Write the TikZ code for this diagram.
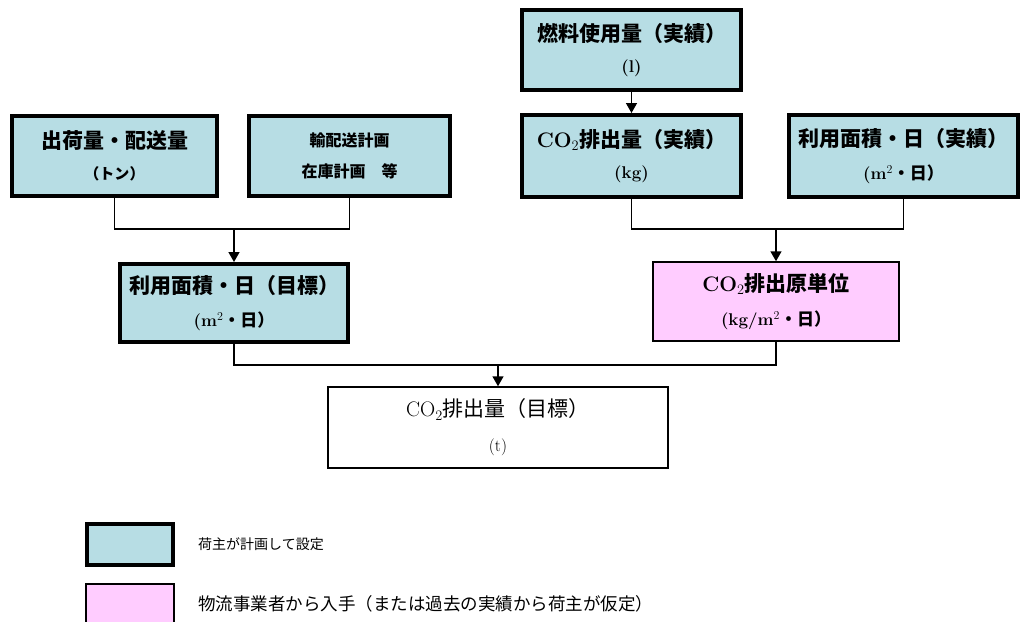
\documentclass[tikz,border=0pt]{standalone}
\usepackage{fontspec}
\newfontfamily\jp{Noto Sans CJK JP}
\usetikzlibrary{arrows.meta}
\definecolor{planblue}{RGB}{183,221,228}
\definecolor{lspink}{RGB}{255,204,255}
\newcommand{\ttl}{\jp\bfseries\fontsize{21}{24}\selectfont}
\newcommand{\unt}{\bfseries\fontsize{17}{20}\selectfont}
\begin{document}
\begin{tikzpicture}[x=1pt,y=-1pt,
  plan/.style={draw,line width=4pt,fill=planblue,inner sep=0pt,align=center},
  given/.style={draw,line width=1.5pt,fill=lspink,inner sep=0pt,align=center},
  result/.style={draw,line width=1.5pt,fill=white,inner sep=0pt,align=center},
  link/.style={line width=1.5pt},
  flow/.style={line width=1.5pt,-{Triangle[width=11pt,length=10pt]}},
  note/.style={anchor=west,inner sep=0pt}]
\clip (0,0) rectangle (1022,621);
\fill[white] (0,0) rectangle (1022,621);
% top row
\node[plan,minimum width=205pt,minimum height=80pt] (ship) at (114.5,156)
  {{\ttl 出荷量・配送量}\\[15pt]{\jp\bfseries\fontsize{15}{18}\selectfont （トン）}};
\node[plan,minimum width=201pt,minimum height=80pt] (sched) at (349.5,156)
  {{\jp\bfseries\fontsize{16}{19}\selectfont 輸配送計画}\\[14pt]{\jp\bfseries\fontsize{16}{19}\selectfont 在庫計画\quad 等}};
\node[plan,minimum width=219pt,minimum height=80pt] (fuel) at (631.5,50)
  {{\ttl 燃料使用量（実績）}\\[15pt]{\unt (l)}};
\node[plan,minimum width=219pt,minimum height=82pt] (co2act) at (631.5,156)
  {{\ttl {\rmfamily\bfseries CO$_2$}排出量（実績）}\\[15pt]{\unt (kg)}};
\node[plan,minimum width=229pt,minimum height=82pt] (areaact) at (903.5,156)
  {{\ttl 利用面積・日（実績）}\\[15pt]{\unt (m$^2${\jp ・日）}}};
% middle row
\node[plan,minimum width=228pt,minimum height=78pt] (areatgt) at (234,303)
  {{\ttl 利用面積・日（目標）}\\[15pt]{\unt (m$^2${\jp ・日）}}};
\node[given,minimum width=246pt,minimum height=79pt] (rate) at (776,301.5)
  {{\ttl {\rmfamily\bfseries CO$_2$}排出原単位}\\[15pt]{\unt (kg/m$^2${\jp ・日）}}};
% result
\node[result,minimum width=340pt,minimum height=81pt] (co2tgt) at (498,427.5)
  {{\jp\fontsize{21}{24}\selectfont {\rmfamily CO$_2$}排出量（目標）}\\[18pt]{\fontsize{17}{20}\selectfont (t)}};
% connectors
\coordinate (j1) at (234,229);
\coordinate (j2) at (776,229);
\coordinate (j3) at (498,365);
\draw[flow] (fuel) -- (co2act);
\draw[link] (ship.south) |- (j1) -| (sched.south);
\draw[flow] (j1) -- (areatgt.north);
\draw[link] (co2act.south) |- (j2) -| (areaact.south);
\draw[flow] (j2) -- (rate.north);
\draw[link] (areatgt.south) |- (j3) -| (rate.south);
\draw[flow] (j3) -- (co2tgt.north);
% legend
\node[plan,minimum width=86pt,minimum height=41pt] (keyplan) at (130,544.5) {};
\node[given,minimum width=88pt,minimum height=60pt] (keygiven) at (130,614) {};
\node[note,font=\jp\fontsize{14}{17}\selectfont] (txtplan) at (198,544) {荷主が計画して設定};
\node[note,font=\jp\fontsize{17.5}{20}\selectfont] (txtgiven) at (198,604) {物流事業者から入手（または過去の実績から荷主が仮定）};
\end{tikzpicture}
\end{document}
